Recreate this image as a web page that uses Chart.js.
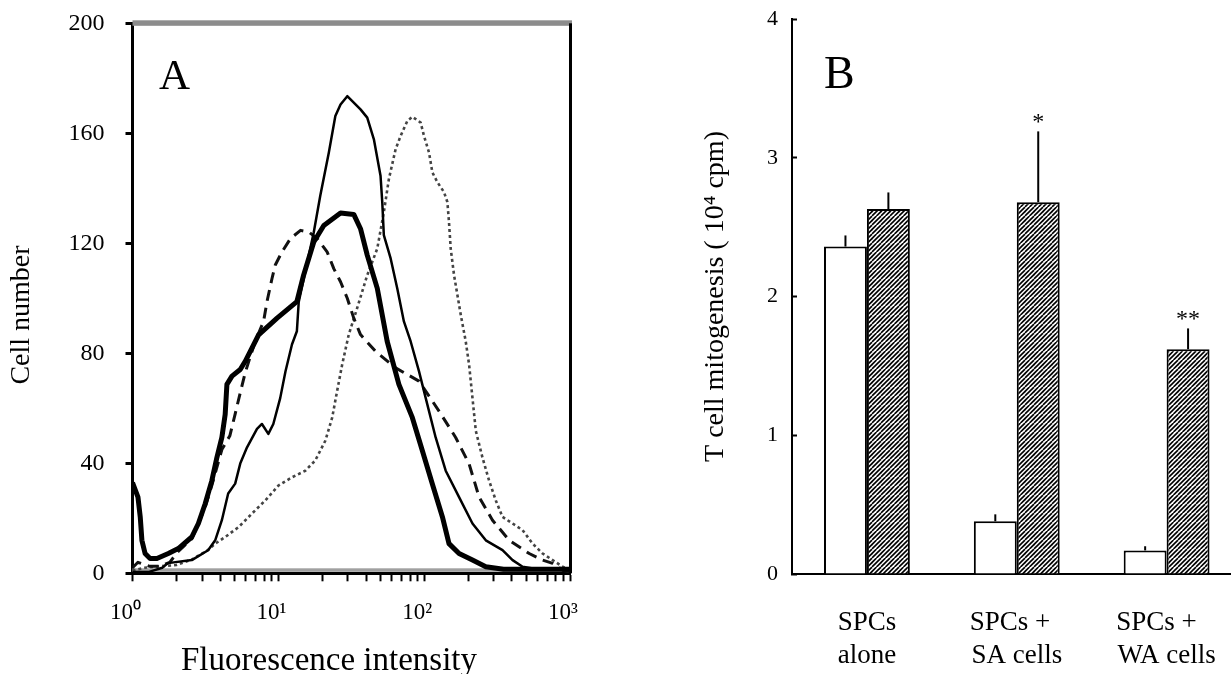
<!DOCTYPE html>
<html>
<head>
<meta charset="utf-8">
<script src="https://cdn.jsdelivr.net/npm/chart.js@4.4.0/dist/chart.umd.min.js"></script>
<style>
html, body { margin: 0; padding: 0; background: #fff; overflow: hidden; width: 1231px; height: 674px; }
#chartA { position: absolute; left: 0; top: 0; }
#chartB { position: absolute; left: 620px; top: 0; }
</style>
</head>
<body>
<canvas id="chartA" width="620" height="674"></canvas>
<canvas id="chartB" width="630" height="674"></canvas>
<script>
// ---- panel A : histograms (x = fluorescence, y = cell number)
var boldX = [1.0, 1.09, 1.13, 1.16, 1.22, 1.32, 1.47, 1.76, 2.06, 2.55, 2.83, 3.15, 3.5, 3.79, 4.1, 4.32, 4.44, 4.81, 5.48, 5.93, 6.59, 7.32, 9.8, 13.4, 14.9, 17.5, 20.5, 26.7, 32.9, 36.6, 40.7, 47.7, 55.8, 67.1, 83.0, 97.2, 113.8, 133.4, 148, 173.5, 214.4, 264.6, 350, 500, 700, 1000];
var boldY = [33, 27.7, 20.5, 12, 7.2, 5.4, 5.4, 7.2, 9, 13.2, 18.1, 25.3, 33.7, 42.1, 49.4, 57.8, 68.7, 71.7, 74.1, 77.1, 81.9, 86.7, 92.8, 98.8, 108.4, 120.5, 126.5, 131, 130.5, 125.3, 115.7, 103.6, 84.3, 68.7, 56.6, 44.6, 32.5, 20.5, 10.8, 7.2, 4.8, 2.4, 1.5, 1.5, 1.5, 1.5];

var thinX = [1.0, 1.3, 1.6, 1.75, 2.55, 3.3, 3.69, 4.1, 4.53, 5.06, 5.48, 6.1, 7.14, 7.72, 8.54, 9.24, 10.3, 11.2, 12.4, 13.4, 13.8, 17.5, 19.4, 22.2, 24.6, 26.7, 29.7, 36.6, 40.7, 45.2, 50.2, 51.6, 52.9, 58.9, 65.4, 72.6, 80.8, 92.1, 102.4, 119.9, 140.5, 173.5, 214.4, 264.6, 344.6, 403.9, 473, 600, 1000];
var thinY = [0.5, 0.5, 2, 3.7, 4.8, 8.4, 12, 19.3, 29, 32.6, 39.9, 45.8, 52.5, 54.3, 50.7, 54.3, 63.7, 73.5, 83.2, 88, 98.7, 124, 137.4, 153, 166.3, 170.5, 173.5, 168.7, 165.7, 157.8, 144.6, 135, 123, 114.5, 103.6, 91.6, 84.3, 73.5, 63.8, 49.4, 37.3, 27.7, 18.1, 12, 8.4, 4.8, 2.4, 1.5, 1.5];

var dashX = [1.0, 1.09, 1.3, 1.56, 1.8, 2.06, 2.55, 3.15, 3.5, 4.1, 4.65, 5.06, 5.5, 5.93, 6.9, 7.92, 8.36, 9.05, 9.53, 10.6, 12.1, 14.2, 16.2, 18.5, 21.6, 24.0, 26.7, 29.7, 32.9, 36.6, 46.4, 63.7, 92.1, 126.4, 164.4, 203.2, 238.2, 294.2, 382.8, 525, 649, 760, 900, 1000];
var dashY = [2, 4, 2.6, 2.6, 4, 8, 12.5, 24, 32, 45, 50, 58, 66, 73, 84, 91.6, 98.8, 107.2, 112.1, 116.9, 121.7, 124.7, 124.1, 121.7, 116.9, 110.8, 106, 100, 92.8, 86.8, 80.7, 74.7, 69.9, 59, 49.4, 39.8, 27.7, 19.3, 12, 7.2, 4.8, 3.6, 1, 0.5];

var dotX = [1.0, 1.2, 1.5, 2.0, 2.55, 3.3, 3.69, 4.32, 5.34, 6.59, 8.14, 10.0, 12.4, 15.3, 17.9, 21.0, 23.4, 25.3, 27.4, 30.4, 34.7, 40.7, 47.7, 52.9, 57.3, 63.7, 68.9, 76.7, 83.0, 94.6, 99.8, 108, 113.8, 123.3, 136.8, 144.3, 148, 152.1, 160.3, 178.2, 192.8, 203.2, 214.4, 226, 251, 278.8, 309.8, 344.6, 403.9, 473, 554, 649, 760, 891, 1000];
var dotY = [1, 2, 2.5, 3, 5, 8.5, 10.8, 13.2, 16.8, 21.7, 26.5, 31.9, 34.9, 37.3, 41, 48.2, 56.6, 66.3, 75.9, 86.8, 96.4, 108.4, 118.1, 131.3, 143.4, 154.2, 159, 164.5, 166, 163.9, 159, 153, 145.8, 142.2, 138.6, 135, 127.7, 118, 108.4, 94, 84.3, 75.9, 63.8, 51.8, 42.1, 33.7, 26.5, 20.5, 18.1, 15.7, 10.8, 7.2, 4.8, 2.4, 1];

var decades = [1, 10, 100, 1000];
var decadeLabels = ['10\u2070', '10\u00B9', '10\u00B2', '10\u00B3'];

// ---- panel B : T cell mitogenesis
var groups = [['SPCs', 'alone'], ['SPCs +\u00A0\u00A0', 'SA cells'], ['SPCs +\u00A0\u00A0\u00A0', 'WA cells']];
var openVals = [2.36, 0.38, 0.17];
var openErr = [0.08, 0.05, 0.03];
var hatchVals = [2.63, 2.68, 1.62];
var hatchErr = [0.12, 0.51, 0.15];
var hatchSig = ['', '*', '**'];

var serif = "'Liberation Serif', 'Times New Roman', serif";

function pts(xs, ys) {
    var out = [];
    for (var i = 0; i < xs.length; i++) out.push({x: xs[i], y: ys[i]});
    return out;
}

// minor + major tick positions of the log axis
var xTicks = [];
for (var d = 0; d < 3; d++) {
    for (var m = 1; m < 10; m++) xTicks.push(m * decades[d]);
}
xTicks.push(1000);

// fixed y-axis width, and no extra top/bottom room for the tick labels
function fixY(w) {
    return function(s) {
        s.width = w;
        s.paddingTop = 0;
        s.paddingBottom = 0;
    };
}

var frameA = {
    id: 'frameA',
    beforeDatasetsDraw: function(chart) {
        var a = chart.chartArea, ctx = chart.ctx;
        ctx.save();
        ctx.fillStyle = '#8c8c8c';
        ctx.fillRect(a.left, a.top - 3, a.right - a.left + 2, 5.5);
        ctx.fillStyle = '#a0a0a0';
        ctx.fillRect(a.left, a.bottom - 5, a.right - a.left, 3.5);
        ctx.fillStyle = '#000';
        ctx.fillRect(a.right - 1, a.top, 3, a.bottom - a.top);
        ctx.restore();
    },
    afterDraw: function(chart) {
        var ctx = chart.ctx;
        ctx.save();
        ctx.fillStyle = '#000';
        ctx.font = '43px ' + serif;
        ctx.textAlign = 'left';
        ctx.fillText('A', 159, 89);
        ctx.font = '33px ' + serif;
        ctx.textAlign = 'center';
        ctx.fillText('Fluorescence intensity', 329, 670);
        ctx.translate(29, 315);
        ctx.rotate(-Math.PI / 2);
        ctx.font = '28px ' + serif;
        ctx.fillText('Cell number', 0, 0);
        ctx.restore();
    }
};

var chartA = new Chart(document.getElementById('chartA'), {
    type: 'line',
    data: {
        datasets: [
            {label: 'bold', data: pts(boldX, boldY), borderColor: '#000', borderWidth: 5},
            {label: 'thin', data: pts(thinX, thinY), borderColor: '#000', borderWidth: 2.5},
            {label: 'dashed', data: pts(dashX, dashY), borderColor: '#111', borderWidth: 3, borderDash: [11, 7]},
            {label: 'dotted', data: pts(dotX, dotY), borderColor: '#444', borderWidth: 2.6, borderDash: [3, 3]}
        ]
    },
    options: {
        responsive: false,
        animation: false,
        layout: {padding: {top: 23.3, right: 50, left: 0, bottom: 0}},
        elements: {point: {radius: 0}, line: {tension: 0, borderJoinStyle: 'round'}},
        plugins: {legend: {display: false}, tooltip: {enabled: false}},
        scales: {
            x: {
                type: 'logarithmic', min: 1, max: 1000,
                afterBuildTicks: function(s) { s.ticks = xTicks.map(function(v) { return {value: v}; }); },
                afterFit: function(s) { s.height = 100.7; },
                border: {color: '#000', width: 3},
                grid: {drawOnChartArea: false, tickLength: 8, tickWidth: 2, tickColor: '#000'},
                ticks: {
                    autoSkip: false, maxRotation: 0, padding: 18, labelOffset: -7, color: '#000',
                    font: {family: serif, size: 23},
                    callback: function(v) {
                        var k = decades.indexOf(v);
                        return k >= 0 ? decadeLabels[k] : '';
                    }
                }
            },
            y: {
                min: 0, max: 200,
                afterFit: fixY(132.5),
                border: {color: '#000', width: 3},
                grid: {drawOnChartArea: false, tickLength: 7, tickWidth: 3, tickColor: '#000'},
                ticks: {stepSize: 40, padding: 21, color: '#000', font: {family: serif, size: 24}}
            }
        }
    },
    plugins: [frameA]
});

// diagonal hatch for the second series
function makeHatch() {
    var c = document.createElement('canvas');
    c.width = 9; c.height = 9;
    var g = c.getContext('2d');
    g.fillStyle = '#fff';
    g.fillRect(0, 0, 9, 9);
    g.strokeStyle = '#000';
    g.lineWidth = 1.6;
    for (var o = -9; o <= 9; o += 4.5) {
        g.beginPath();
        g.moveTo(o, 9);
        g.lineTo(o + 9, 0);
        g.stroke();
    }
    return document.getElementById('chartB').getContext('2d').createPattern(c, 'repeat');
}

var errorBars = {
    id: 'errorBars',
    afterDatasetsDraw: function(chart) {
        var ctx = chart.ctx, ys = chart.scales.y;
        var errs = [openErr, hatchErr];
        ctx.save();
        ctx.strokeStyle = '#000';
        ctx.fillStyle = '#000';
        ctx.lineWidth = 2;
        for (var di = 0; di < 2; di++) {
            var meta = chart.getDatasetMeta(di);
            var vals = chart.data.datasets[di].data;
            meta.data.forEach(function(bar, j) {
                var top = ys.getPixelForValue(vals[j] + errs[di][j]);
                ctx.beginPath();
                ctx.moveTo(bar.x, bar.y);
                ctx.lineTo(bar.x, top);
                ctx.stroke();
                if (di == 1 && hatchSig[j]) {
                    ctx.font = '24px ' + serif;
                    ctx.textAlign = 'center';
                    ctx.fillText(hatchSig[j], bar.x, top - 2);
                }
            });
        }
        ctx.font = '46px ' + serif;
        ctx.textAlign = 'left';
        ctx.fillText('B', 204, 88);
        ctx.restore();
    }
};

var chartB = new Chart(document.getElementById('chartB'), {
    type: 'bar',
    data: {
        labels: groups,
        datasets: [
            {label: 'open', data: openVals, backgroundColor: '#fff', borderColor: '#000', borderWidth: 2},
            {label: 'hatched', data: hatchVals, backgroundColor: makeHatch(), borderColor: '#000', borderWidth: 2}
        ]
    },
    options: {
        responsive: false,
        animation: false,
        layout: {padding: {top: 19, right: 0, left: 0, bottom: 0}},
        datasets: {bar: {categoryPercentage: 0.573, barPercentage: 1}},
        plugins: {legend: {display: false}, tooltip: {enabled: false}},
        scales: {
            x: {
                afterFit: function(s) { s.height = 100; },
                border: {color: '#000', width: 2},
                grid: {drawOnChartArea: false, drawTicks: false},
                ticks: {padding: 33, color: '#000', font: {family: serif, size: 27}}
            },
            y: {
                min: 0, max: 4,
                afterFit: fixY(172),
                border: {color: '#000', width: 2},
                grid: {drawOnChartArea: false, tickLength: -5, tickWidth: 2, tickColor: '#000'},
                ticks: {stepSize: 1, padding: 19, color: '#000', font: {family: serif, size: 22}},
                title: {
                    display: true, text: 'T cell mitogenesis ( 10\u2074 cpm)', color: '#000',
                    font: {family: serif, size: 28}, padding: {top: 79, bottom: 0}
                }
            }
        }
    },
    plugins: [errorBars]
});
</script>
</body>
</html>
